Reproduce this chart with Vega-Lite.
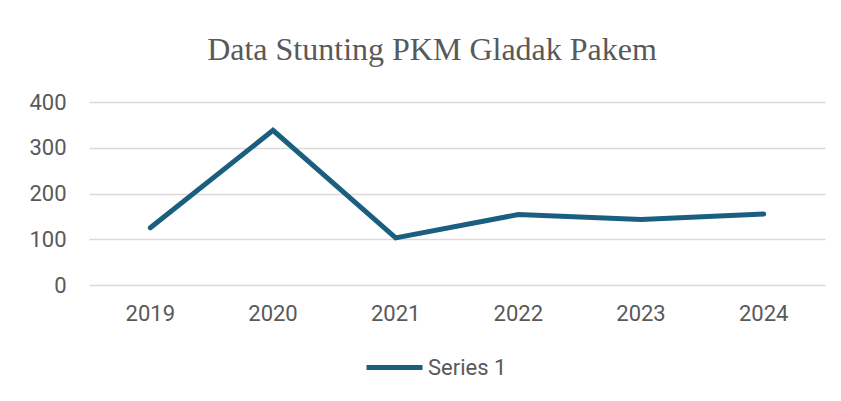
{
  "$schema": "https://vega.github.io/schema/vega-lite/v6.json",
  "autosize": {"type": "none"},
  "width": 736,
  "height": 183,
  "padding": {"left": 89, "top": 102, "right": 16, "bottom": 116},
  "background": "white",
  "title": {
    "text": "Data Stunting PKM Gladak Pakem",
    "font": "Liberation Serif",
    "fontSize": 32,
    "fontWeight": "normal",
    "color": "#595959",
    "anchor": "middle",
    "dx": -25,
    "offset": 24
  },
  "data": {
    "values": [
      {"year": "2019", "value": 125, "series": "Series 1"},
      {"year": "2020", "value": 338, "series": "Series 1"},
      {"year": "2021", "value": 103, "series": "Series 1"},
      {"year": "2022", "value": 154, "series": "Series 1"},
      {"year": "2023", "value": 143, "series": "Series 1"},
      {"year": "2024", "value": 155, "series": "Series 1"}
    ]
  },
  "mark": {"type": "line", "strokeWidth": 5, "strokeCap": "round", "strokeJoin": "miter"},
  "encoding": {
    "x": {
      "field": "year",
      "type": "ordinal",
      "scale": {"type": "band", "paddingInner": 0, "paddingOuter": 0},
      "axis": {
        "title": null,
        "labelAngle": 0,
        "domain": false,
        "ticks": false,
        "grid": false,
        "labelPadding": 18,
        "labelFont": "Roboto",
        "labelFontSize": 22,
        "labelColor": "#595959"
      }
    },
    "y": {
      "field": "value",
      "type": "quantitative",
      "scale": {"domain": [0, 400]},
      "axis": {
        "title": null,
        "values": [0, 100, 200, 300, 400],
        "domain": false,
        "ticks": false,
        "gridColor": "#d9d9d9",
        "gridWidth": 1.5,
        "labelPadding": 23,
        "labelFont": "Roboto",
        "labelFontSize": 22,
        "labelColor": "#595959"
      }
    },
    "color": {
      "field": "series",
      "type": "nominal",
      "scale": {"range": ["#1b5f80"]},
      "legend": {
        "title": null,
        "orient": "none",
        "legendX": 275,
        "legendY": 235,
        "symbolType": "stroke",
        "symbolSize": 3136,
        "symbolStrokeWidth": 5,
        "labelFont": "Roboto",
        "labelFontSize": 22,
        "labelColor": "#595959",
        "labelOffset": 3
      }
    }
  },
  "config": {"view": {"stroke": null}}
}
